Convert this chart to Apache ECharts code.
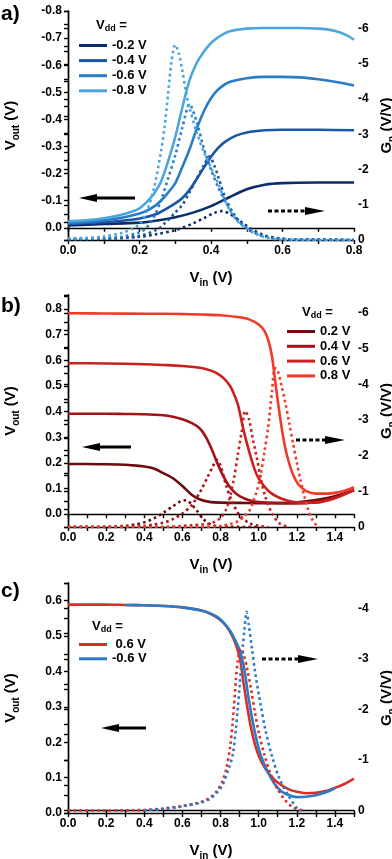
<!DOCTYPE html>
<html>
<head>
<meta charset="utf-8">
<script src="https://cdn.jsdelivr.net/npm/echarts@6/dist/echarts.min.js"></script>
<style>
html, body { margin: 0; padding: 0; background: #fff; }
#main { width: 392px; height: 859px; }
</style>
</head>
<body>
<div id="main"></div>
<script>
// a) negative supply, b) positive supply, c) 0.6 V vs -0.6 V
const vddA = ['-0.2 V', '-0.4 V', '-0.6 V', '-0.8 V'];
const vddB = ['0.2 V', '0.4 V', '0.6 V', '0.8 V'];
const vddC = ['0.6 V', '-0.6 V'];
const colorsA = ['#0c2d6b', '#1a56a5', '#2a7cc6', '#4ba6dd'];
const colorsB = ['#6e0c0c', '#a3141a', '#c9211f', '#f23a2b'];
const colorsC = ['#d7302b', '#2a7cc6'];

// Vout (left axis), pairs of [Vin, Vout]
const voutA02 = [[0,-0.009],[0.1,-0.014],[0.2,-0.019],[0.25,-0.027],[0.3,-0.039],[0.35,-0.056],[0.4,-0.08],[0.45,-0.112],[0.5,-0.142],[0.55,-0.159],[0.6,-0.165],[0.7,-0.167],[0.8,-0.167]];
const voutA04 = [[0,-0.014],[0.1,-0.021],[0.15,-0.026],[0.2,-0.034],[0.25,-0.052],[0.27,-0.066],[0.3,-0.09],[0.32,-0.11],[0.34,-0.14],[0.36,-0.18],[0.38,-0.222],[0.4,-0.262],[0.42,-0.295],[0.44,-0.318],[0.47,-0.34],[0.5,-0.352],[0.55,-0.36],[0.6,-0.362],[0.7,-0.362],[0.8,-0.36]];
const voutA06 = [[0,-0.019],[0.05,-0.022],[0.1,-0.028],[0.15,-0.037],[0.2,-0.053],[0.22,-0.063],[0.24,-0.078],[0.26,-0.1],[0.28,-0.13],[0.3,-0.165],[0.32,-0.225],[0.34,-0.29],[0.36,-0.365],[0.38,-0.43],[0.4,-0.478],[0.42,-0.51],[0.45,-0.537],[0.5,-0.552],[0.55,-0.557],[0.6,-0.557],[0.65,-0.555],[0.7,-0.548],[0.75,-0.538],[0.8,-0.525]];
const voutA08 = [[0,-0.024],[0.05,-0.028],[0.1,-0.035],[0.15,-0.048],[0.18,-0.06],[0.2,-0.072],[0.22,-0.095],[0.24,-0.125],[0.26,-0.17],[0.28,-0.245],[0.3,-0.335],[0.32,-0.445],[0.34,-0.545],[0.36,-0.608],[0.38,-0.65],[0.4,-0.682],[0.42,-0.703],[0.45,-0.724],[0.5,-0.735],[0.55,-0.737],[0.6,-0.737],[0.65,-0.737],[0.7,-0.735],[0.72,-0.733],[0.75,-0.725],[0.78,-0.71],[0.8,-0.694]];

const voutB02 = [[0,0.196],[0.1,0.196],[0.2,0.195],[0.3,0.193],[0.35,0.19],[0.4,0.186],[0.45,0.178],[0.5,0.16],[0.55,0.14],[0.6,0.11],[0.65,0.075],[0.7,0.055],[0.75,0.047],[0.8,0.045],[0.9,0.044],[1.0,0.043],[1.1,0.043],[1.2,0.046],[1.3,0.055],[1.4,0.07],[1.5,0.093]];
const voutB04 = [[0,0.392],[0.1,0.392],[0.2,0.392],[0.3,0.391],[0.4,0.39],[0.5,0.386],[0.55,0.38],[0.6,0.37],[0.65,0.355],[0.69,0.335],[0.72,0.305],[0.75,0.26],[0.78,0.205],[0.81,0.155],[0.84,0.115],[0.87,0.088],[0.9,0.07],[0.95,0.054],[1.0,0.047],[1.1,0.043],[1.2,0.042],[1.3,0.048],[1.4,0.065],[1.5,0.094]];
const voutB06 = [[0,0.589],[0.2,0.588],[0.4,0.585],[0.5,0.582],[0.6,0.578],[0.7,0.57],[0.75,0.56],[0.78,0.55],[0.82,0.528],[0.85,0.5],[0.87,0.47],[0.89,0.43],[0.9,0.4],[0.92,0.33],[0.95,0.245],[0.98,0.172],[1.0,0.14],[1.03,0.108],[1.06,0.085],[1.1,0.067],[1.15,0.053],[1.2,0.046],[1.3,0.045],[1.4,0.062],[1.5,0.094]];
const voutB08 = [[0,0.784],[0.2,0.783],[0.4,0.782],[0.6,0.781],[0.7,0.779],[0.8,0.776],[0.9,0.768],[0.95,0.76],[1.0,0.74],[1.03,0.715],[1.05,0.68],[1.07,0.615],[1.09,0.5],[1.11,0.39],[1.13,0.295],[1.15,0.225],[1.18,0.155],[1.21,0.115],[1.25,0.09],[1.3,0.08],[1.36,0.08],[1.43,0.087],[1.5,0.105]];

const voutCp = [[0,0.589],[0.1,0.589],[0.2,0.589],[0.3,0.588],[0.4,0.587],[0.5,0.585],[0.6,0.581],[0.7,0.572],[0.75,0.562],[0.8,0.545],[0.83,0.528],[0.85,0.512],[0.87,0.49],[0.89,0.46],[0.9,0.44],[0.91,0.41],[0.92,0.37],[0.93,0.335],[0.94,0.3],[0.96,0.24],[0.98,0.195],[1.0,0.162],[1.03,0.13],[1.06,0.107],[1.1,0.086],[1.15,0.069],[1.2,0.06],[1.25,0.056],[1.3,0.057],[1.35,0.062],[1.4,0.071],[1.45,0.082],[1.5,0.097]];
const voutCn = [[0.3,0.588],[0.4,0.587],[0.5,0.585],[0.6,0.581],[0.7,0.572],[0.75,0.563],[0.8,0.547],[0.85,0.515],[0.88,0.485],[0.9,0.46],[0.92,0.42],[0.93,0.39],[0.94,0.35],[0.95,0.315],[0.97,0.255],[0.99,0.205],[1.01,0.165],[1.04,0.125],[1.08,0.085],[1.12,0.061],[1.16,0.05],[1.2,0.045],[1.25,0.046],[1.3,0.05],[1.35,0.058],[1.4,0.07]];

// Gn (right axis), pairs of [Vin, Gn]
const gnA02 = [[0,-0.01],[0.1,-0.04],[0.2,-0.09],[0.25,-0.17],[0.3,-0.28],[0.35,-0.47],[0.38,-0.62],[0.41,-0.77],[0.43,-0.82],[0.45,-0.76],[0.47,-0.62],[0.49,-0.47],[0.52,-0.27],[0.55,-0.13],[0.58,-0.06],[0.62,-0.02],[0.7,-0.01],[0.8,0]];
const gnA04 = [[0,-0.02],[0.1,-0.03],[0.2,-0.12],[0.25,-0.3],[0.27,-0.47],[0.3,-0.78],[0.32,-1.0],[0.34,-1.35],[0.36,-1.75],[0.38,-2.12],[0.395,-2.37],[0.41,-2.1],[0.42,-1.8],[0.44,-1.2],[0.46,-0.8],[0.48,-0.52],[0.5,-0.33],[0.53,-0.17],[0.56,-0.08],[0.6,-0.03],[0.65,-0.01],[0.8,0]];
const gnA06 = [[0,-0.03],[0.1,-0.05],[0.15,-0.09],[0.2,-0.22],[0.22,-0.35],[0.24,-0.65],[0.26,-1.12],[0.28,-1.75],[0.3,-2.4],[0.32,-3.2],[0.34,-3.85],[0.36,-3.35],[0.38,-2.6],[0.4,-2.0],[0.42,-1.5],[0.44,-1.1],[0.46,-0.75],[0.48,-0.5],[0.5,-0.35],[0.53,-0.18],[0.57,-0.06],[0.62,-0.02],[0.8,0]];
const gnA08 = [[0,-0.05],[0.05,-0.06],[0.1,-0.1],[0.15,-0.2],[0.18,-0.32],[0.2,-0.45],[0.22,-0.8],[0.24,-1.45],[0.26,-2.5],[0.27,-3.2],[0.28,-4.15],[0.29,-5.1],[0.3,-5.54],[0.31,-5.3],[0.32,-4.8],[0.33,-4.2],[0.34,-3.75],[0.36,-3.05],[0.38,-2.5],[0.4,-2.05],[0.42,-1.6],[0.44,-1.1],[0.46,-0.72],[0.48,-0.47],[0.5,-0.33],[0.52,-0.2],[0.55,-0.08],[0.6,-0.01],[0.8,0]];

const gnB02 = [[0,0],[0.2,0],[0.3,-0.03],[0.35,-0.07],[0.4,-0.13],[0.45,-0.24],[0.5,-0.4],[0.55,-0.58],[0.59,-0.72],[0.62,-0.75],[0.65,-0.62],[0.68,-0.43],[0.71,-0.22],[0.75,-0.07],[0.8,-0.01],[1.0,0]];
const gnB04 = [[0,0],[0.3,0],[0.4,-0.03],[0.45,-0.07],[0.5,-0.12],[0.55,-0.22],[0.6,-0.38],[0.65,-0.62],[0.7,-1.05],[0.73,-1.38],[0.76,-1.7],[0.78,-1.88],[0.8,-1.72],[0.83,-1.15],[0.86,-0.72],[0.9,-0.33],[0.95,-0.11],[1.0,-0.03],[1.05,0]];
const gnB06 = [[0,0],[0.5,0],[0.6,-0.03],[0.65,-0.05],[0.7,-0.07],[0.75,-0.1],[0.8,-0.25],[0.83,-0.5],[0.85,-0.85],[0.87,-1.35],[0.89,-2.0],[0.91,-2.65],[0.93,-3.25],[0.95,-3.0],[0.97,-2.45],[0.99,-1.95],[1.01,-1.38],[1.035,-0.85],[1.07,-0.38],[1.11,-0.1],[1.16,0]];
const gnB08 = [[0,0],[0.7,0],[0.8,-0.03],[0.85,-0.08],[0.9,-0.19],[0.95,-0.45],[0.97,-0.7],[0.99,-1.0],[1.01,-1.45],[1.03,-2.1],[1.05,-2.8],[1.07,-3.8],[1.085,-4.45],[1.1,-4.38],[1.12,-3.95],[1.14,-3.48],[1.16,-2.92],[1.18,-2.35],[1.2,-1.8],[1.22,-1.3],[1.24,-0.85],[1.26,-0.48],[1.28,-0.22],[1.3,-0.07],[1.32,0]];

const gnCp = [[0,0],[0.2,0],[0.4,-0.01],[0.5,-0.04],[0.6,-0.09],[0.7,-0.17],[0.75,-0.27],[0.78,-0.38],[0.81,-0.58],[0.83,-0.82],[0.85,-1.25],[0.865,-1.8],[0.88,-2.55],[0.89,-2.95],[0.905,-3.2],[0.92,-3.1],[0.94,-2.8],[0.96,-2.4],[0.98,-1.95],[1.0,-1.55],[1.03,-1.1],[1.06,-0.75],[1.1,-0.42],[1.14,-0.2],[1.18,-0.06],[1.23,0]];
const gnCn = [[0.4,0],[0.5,-0.03],[0.6,-0.08],[0.7,-0.16],[0.74,-0.22],[0.78,-0.35],[0.81,-0.5],[0.84,-0.8],[0.864,-1.1],[0.88,-1.6],[0.89,-2.0],[0.9,-2.45],[0.91,-2.95],[0.925,-3.57],[0.937,-3.93],[0.947,-3.7],[0.965,-3.2],[0.982,-2.72],[1.01,-2.1],[1.035,-1.6],[1.07,-1.07],[1.11,-0.62],[1.16,-0.27],[1.2,-0.05],[1.22,0]];

const FONT = 'Liberation Sans, Arial, sans-serif';
const black = { color: '#000', width: 1.4 };

function tenths(v) {
  const r = Math.round(v * 10);
  return Math.abs(v * 10 - r) < 1e-6 ? (r / 10).toFixed(1) : '';
}
function fifths(v) {
  const r = Math.round(v * 5);
  return Math.abs(v * 5 - r) < 1e-6 ? (r / 5).toFixed(1) : '';
}
function whole(v) {
  const r = Math.round(v);
  return Math.abs(v - r) < 1e-6 ? String(r === 0 ? 0 : r) : '';
}

const nameRich = {
  b: { fontFamily: FONT, fontWeight: 'bold', fontSize: 15, lineHeight: 20, color: '#000' },
  s: { fontFamily: FONT, fontWeight: 'bold', fontSize: 10, lineHeight: 10, verticalAlign: 'bottom', color: '#000' }
};
const labelStyle = { fontFamily: FONT, fontWeight: 'bold', fontSize: 12, color: '#000' };

function xPair(grid, max) {
  return [
    {
      type: 'value', gridIndex: grid, position: 'bottom', min: 0, max: max, interval: 0.1,
      name: '{b|V}{s|in}{b| (V)}', nameLocation: 'middle', nameGap: 28,
      nameTextStyle: { rich: nameRich },
      axisLine: { show: true, lineStyle: black },
      axisTick: { show: true, inside: false, length: 4, lineStyle: black },
      axisLabel: Object.assign({ formatter: fifths, margin: 5 }, labelStyle),
      splitLine: { show: false }
    },
    {
      type: 'value', gridIndex: grid, position: 'top', min: 0, max: max, interval: 0.1,
      axisLine: { show: true, lineStyle: black },
      axisTick: { show: true, inside: true, length: 4, lineStyle: black },
      axisLabel: { show: false },
      splitLine: { show: false }
    }
  ];
}

function yLeft(grid, min, max, inverse) {
  return {
    type: 'value', gridIndex: grid, position: 'left', min: min, max: max, interval: 0.05, inverse: inverse,
    name: '{b|V}{s|out}{b| (V)}', nameLocation: 'middle', nameGap: 47, nameRotate: 90,
    nameTextStyle: { rich: nameRich },
    axisLine: { show: true, lineStyle: black },
    axisTick: { show: true, inside: false, length: 4, lineStyle: black },
    axisLabel: Object.assign({ formatter: tenths, margin: 6 }, labelStyle),
    splitLine: { show: false }
  };
}

function yRight(grid, min, max) {
  return {
    type: 'value', gridIndex: grid, position: 'right', min: min, max: max, interval: 0.5, inverse: true,
    name: '{b|G}{s|n}{b| (V/V)}', nameLocation: 'middle', nameGap: 22, nameRotate: 90,
    nameTextStyle: { rich: nameRich },
    axisLine: { show: true, lineStyle: black },
    axisTick: { show: true, inside: true, length: 4, lineStyle: black },
    axisLabel: Object.assign({ formatter: whole, margin: 4 }, labelStyle),
    splitLine: { show: false }
  };
}

function solid(name, data, color, xi, yi) {
  return {
    type: 'line', name: name, data: data, xAxisIndex: xi, yAxisIndex: yi,
    symbol: 'none', smooth: 0.3, silent: true,
    lineStyle: { color: color, width: 2.6 }, itemStyle: { color: color }
  };
}
function dotted(name, data, color, xi, yi) {
  return {
    type: 'line', name: name, data: data, xAxisIndex: xi, yAxisIndex: yi,
    symbol: 'none', smooth: 0.3, silent: true,
    lineStyle: { color: color, width: 2.6, type: [2.6, 3.2] }, itemStyle: { color: color }
  };
}

function legendFor(names, colors, left, top, gap, fmt) {
  return {
    orient: 'vertical', left: left, top: top, padding: 0, icon: 'rect',
    itemWidth: 28, itemHeight: 3, itemGap: gap, selectedMode: false,
    formatter: fmt,
    textStyle: { fontFamily: FONT, fontWeight: 'bold', fontSize: 13, color: '#000' },
    data: names.map((n, i) => ({ name: n, itemStyle: { color: colors[i] } }))
  };
}

const headRich = {
  b: { fontFamily: FONT, fontWeight: 'bold', fontSize: 13, lineHeight: 16, fill: '#000' },
  s: { fontFamily: FONT, fontWeight: 'bold', fontSize: 9, lineHeight: 9, verticalAlign: 'bottom', fill: '#000' }
};
function header(x, y) {
  return { type: 'text', left: x, top: y, style: { text: '{b|V}{s|dd}{b| =}', rich: headRich } };
}
function panelTag(t, x, y) {
  return { type: 'text', left: x, top: y, style: { text: t, fontFamily: FONT, fontWeight: 'bold', fontSize: 21, fill: '#000' } };
}
function arrowLeft(tip, tail, y) {
  return [
    { type: 'line', shape: { x1: tip + 14, y1: y, x2: tail, y2: y }, style: { stroke: '#000', lineWidth: 3 } },
    { type: 'polygon', shape: { points: [[tip, y], [tip + 18, y - 4], [tip + 18, y + 4]] }, style: { fill: '#000' } }
  ];
}
function arrowRight(tail, tip, y) {
  return [
    { type: 'line', shape: { x1: tail, y1: y, x2: tip - 18, y2: y }, style: { stroke: '#000', lineWidth: 3, lineDash: [4, 2.5] } },
    { type: 'polygon', shape: { points: [[tip, y], [tip - 20, y - 4], [tip - 20, y + 4]] }, style: { fill: '#000' } }
  ];
}

const voutA = [voutA02, voutA04, voutA06, voutA08];
const gnA = [gnA02, gnA04, gnA06, gnA08];
const voutB = [voutB02, voutB04, voutB06, voutB08];
const gnB = [gnB02, gnB04, gnB06, gnB08];
const voutC = [voutCp, voutCn];
const gnC = [gnCp, gnCn];

const series = [];
vddA.forEach((n, i) => series.push(solid(n, voutA[i], colorsA[i], 0, 0)));
vddA.forEach((n, i) => series.push(dotted('Gn ' + n, gnA[i], colorsA[i], 0, 1)));
vddB.forEach((n, i) => series.push(solid(n, voutB[i], colorsB[i], 2, 2)));
vddB.forEach((n, i) => series.push(dotted('Gn ' + n, gnB[i], colorsB[i], 2, 3)));
vddC.forEach((n, i) => series.push(solid(n, voutC[i], colorsC[i], 4, 4)));
vddC.forEach((n, i) => series.push(dotted('Gn c ' + n, gnC[i], colorsC[i], 4, 5)));

const chart = echarts.init(document.getElementById('main'), null, { renderer: 'canvas' });
chart.setOption({
  animation: false,
  backgroundColor: '#fff',
  grid: [
    { left: 68, right: 38, top: 11, height: 229, outerBoundsMode: 'none' },
    { left: 68, right: 38, top: 295, height: 232, outerBoundsMode: 'none' },
    { left: 68, right: 38, top: 583, height: 230, outerBoundsMode: 'none' }
  ],
  xAxis: [].concat(xPair(0, 0.8), xPair(1, 1.5), xPair(2, 1.5)),
  yAxis: [
    yLeft(0, -0.8, 0.045, true), yRight(0, -6.5, 0),
    yLeft(1, -0.05, 0.855, false), yRight(1, -6.5, 0),
    yLeft(2, 0, 0.65, false), yRight(2, -4.5, 0.05)
  ],
  legend: [
    legendFor(vddA, colorsA, 79, 39, 2.1),
    legendFor(vddB, colorsB, 287, 325, 1.8),
    legendFor(vddC, colorsC, 79, 638, 1.3, n => (n[0] === '-' ? n : ' ' + n))
  ],
  graphic: [].concat(
    [panelTag('a)', 1, 4), panelTag('b)', 1, 296), panelTag('c)', 1, 581)],
    [header(96, 19), header(302, 306), header(92, 620)],
    arrowLeft(79, 135, 198), arrowRight(268, 325, 211),
    arrowLeft(82, 131, 447), arrowRight(296, 345, 440),
    arrowLeft(101, 146, 728), arrowRight(262, 318, 659)
  ),
  series: series
});
</script>
</body>
</html>
